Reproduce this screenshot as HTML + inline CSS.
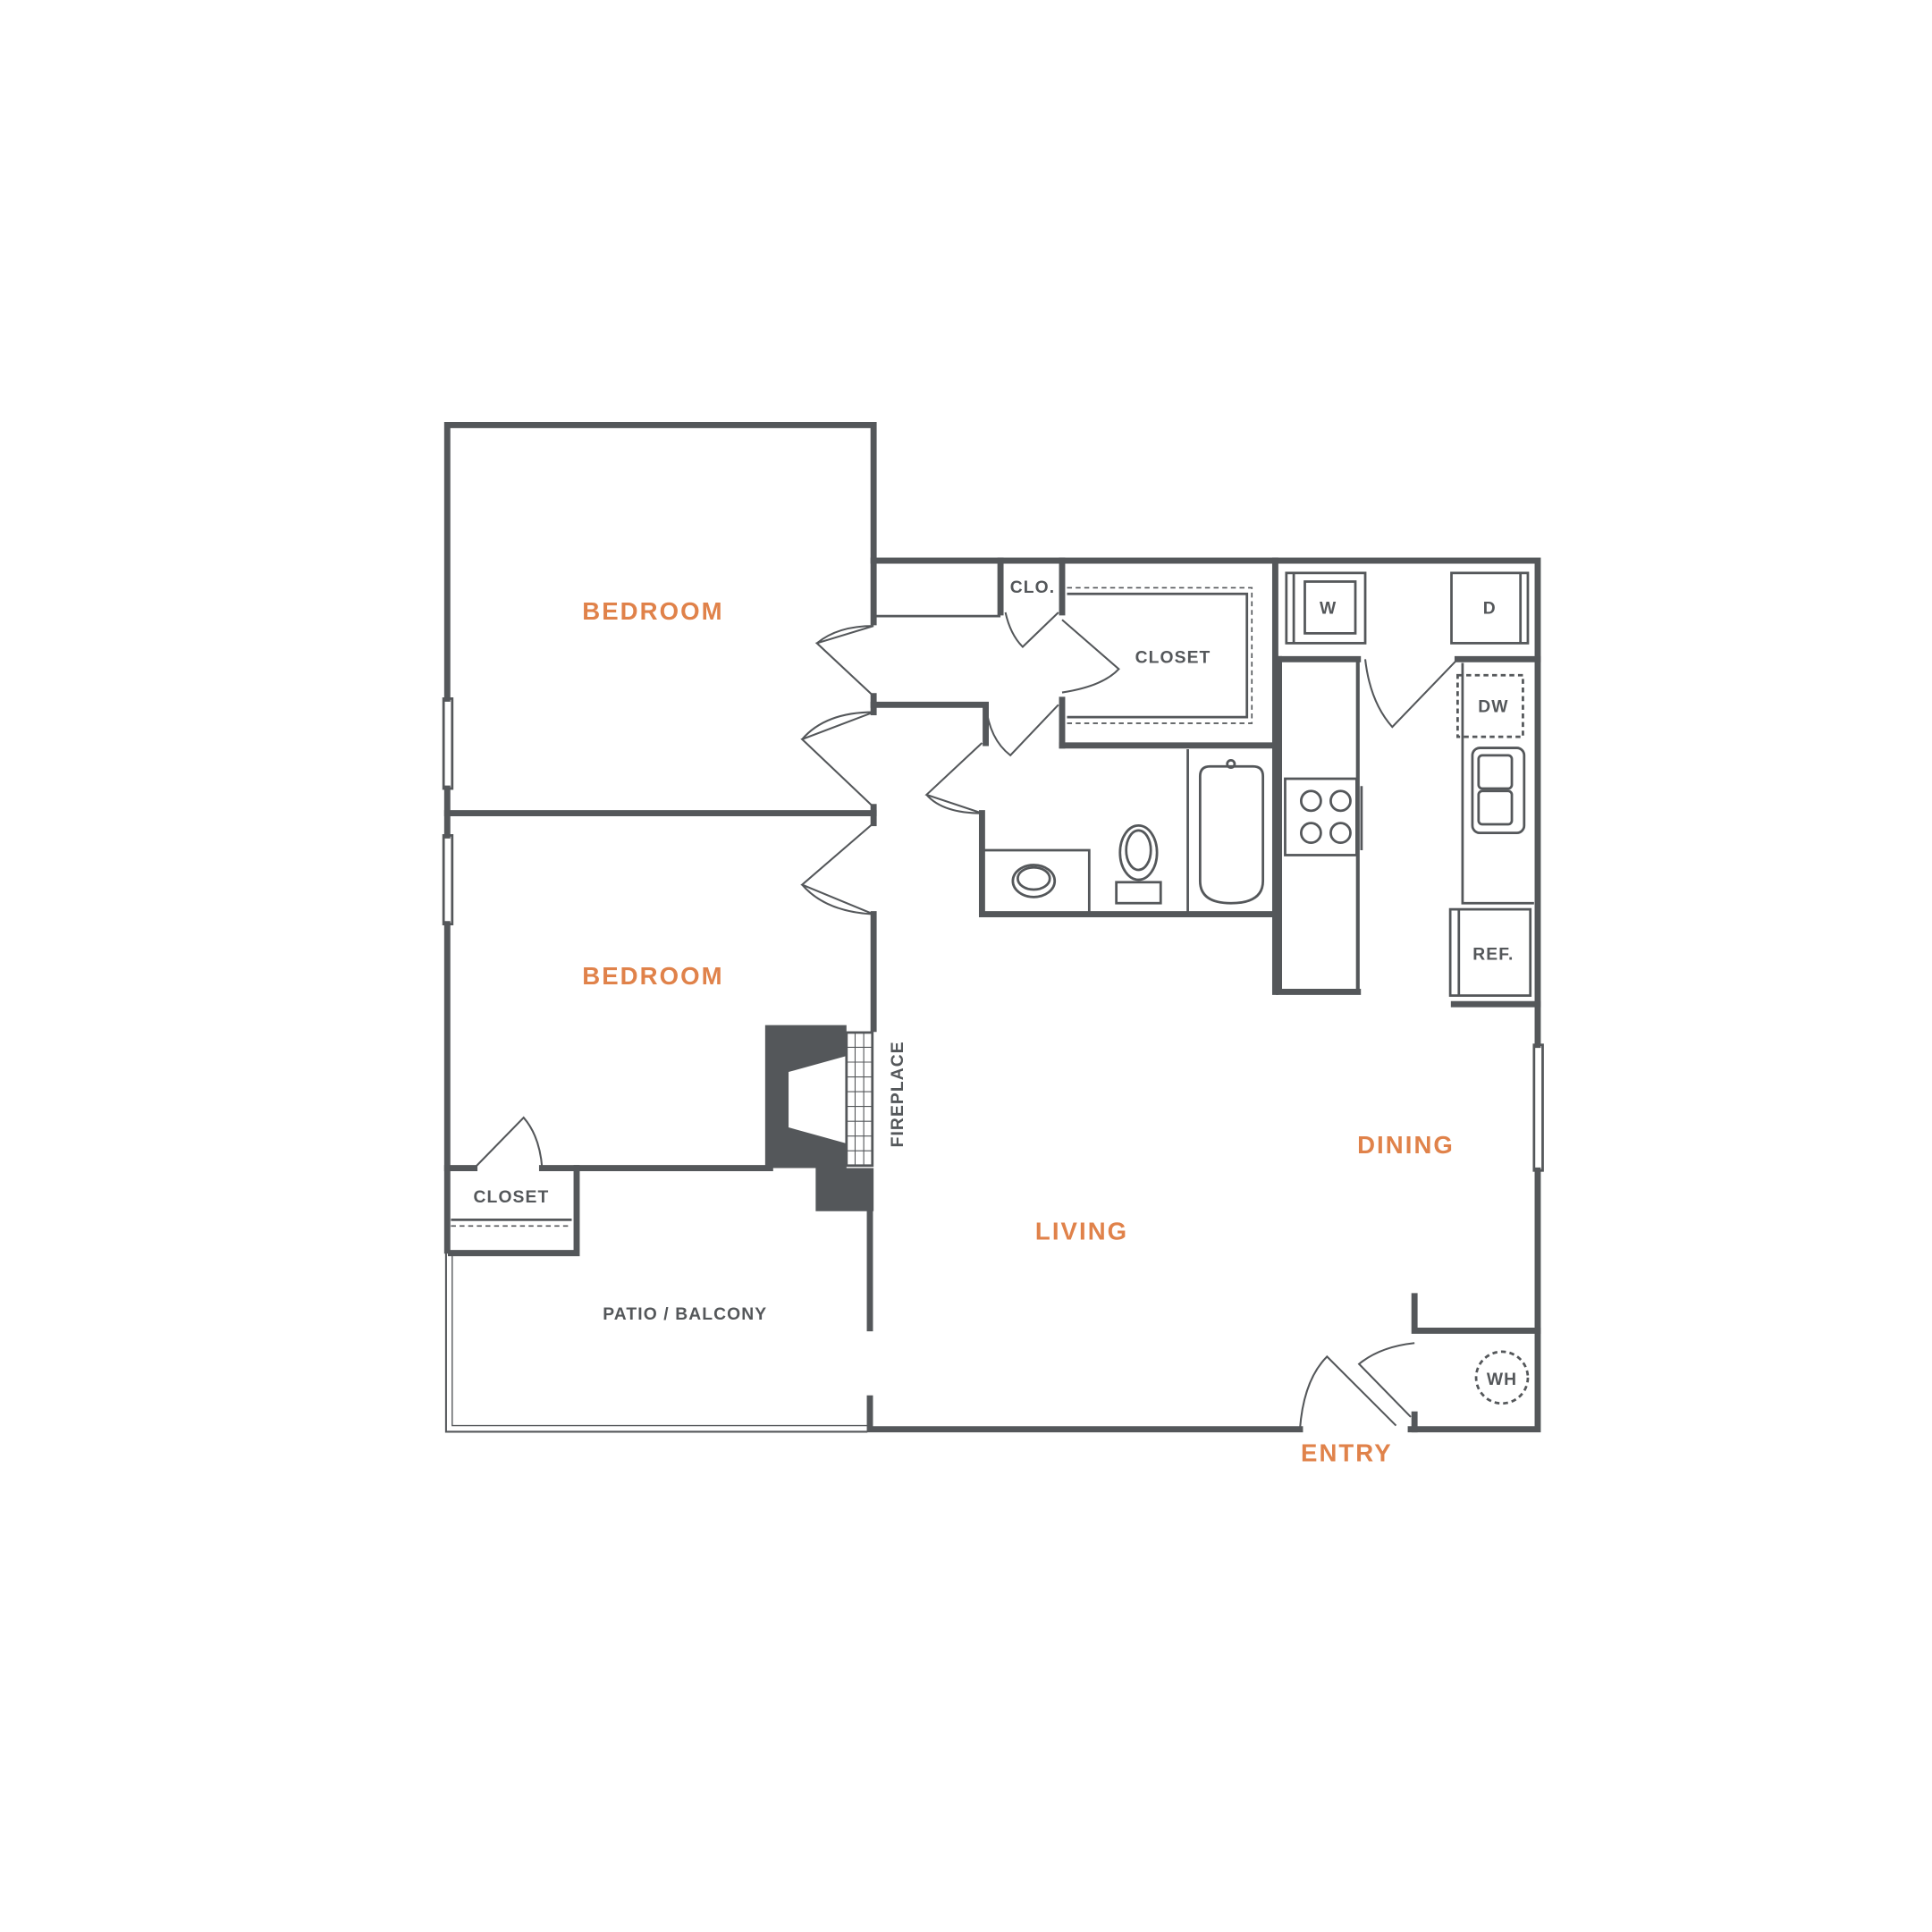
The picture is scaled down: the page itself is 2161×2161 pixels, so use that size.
<!DOCTYPE html>
<html><head><style>html,body{margin:0;padding:0;background:#fff}svg{display:block}</style></head>
<body>
<svg width="2161" height="2161" viewBox="0 0 1568 1568" xmlns="http://www.w3.org/2000/svg">
<g fill="none" stroke="#54575a" stroke-width="5" stroke-linecap="square">
<path d="M363,567 V345 H709 V505"/>
<path d="M363,640 V678"/>
<path d="M363,750 V1015"/>
<path d="M709,455 H1248 V848"/>
<path d="M1248,950 V1160 H1145"/>
<path d="M1055,1160 H706 V1135"/>
<path d="M706,1078 V983"/>
<path d="M363,660 H709"/>
<path d="M709,565 V578"/>
<path d="M709,655 V668"/>
<path d="M709,742 V835"/>
<path d="M363,948 H385"/>
<path d="M440,948 H625"/>
<path d="M366,1017 H468 V948"/>
<path d="M709,572 H800 V603"/>
<path d="M797,660 V742 H1035"/>
<path d="M862,605 H1035"/>
<path d="M862,455 V497"/>
<path d="M862,568 V605"/>
<path d="M812,455 V497"/>
<path d="M1035,455 V605"/>
<path d="M1035,605 V805"/>
<path d="M1038,535 H1102"/>
<path d="M1038,535 V805 H1102"/>
<path d="M1183,535 H1248"/>
<path d="M1180,815 H1248"/>
<path d="M1148,1052 V1080 H1248"/>
<path d="M1148,1148 V1160"/>
</g>
<g fill="none" stroke="#54575a" stroke-width="2">
<path d="M1102,535 V805" stroke-width="3"/>
<rect x="360" y="567" width="7" height="73"/>
<rect x="360" y="678" width="7" height="72"/>
<rect x="1245" y="848" width="7" height="102"/>
<path d="M362,1017 V1162 H704" stroke-width="1.5"/>
<path d="M367,1017 V1157 H704" stroke-width="1"/>
<path d="M707,1045 V1080" />
<path d="M709,500 H812"/>
<path d="M866,482 H1012 V582 H866"/>
<path d="M866,477 H1016 V587 H866" stroke-dasharray="4,3" stroke-width="1.2"/>
<path d="M366,990 H464"/>
<path d="M366,995 H464" stroke-dasharray="4,3" stroke-width="1.2"/>
<path d="M799,690 H884 V740"/>
<path d="M964,608 V740"/>
<ellipse cx="839" cy="715" rx="17" ry="13"/>
<ellipse cx="839" cy="713" rx="13" ry="9"/>
<ellipse cx="924" cy="692" rx="15" ry="22"/>
<ellipse cx="924" cy="690" rx="10" ry="16"/>
<rect x="906" y="716" width="36" height="17"/>
<path d="M974,630 Q974,622 982,622 H1017 Q1025,622 1025,630 V715 Q1025,733 999,733 Q974,733 974,715 Z"/>
<circle cx="999" cy="620" r="3"/>
<rect x="1044" y="465" width="64" height="57"/>
<rect x="1059" y="472" width="41" height="42"/>
<rect x="1178" y="465" width="62" height="57"/>
<path d="M1234,465 V522"/>
<path d="M1050,465 V522"/>
<path d="M1187,538 V733 H1245"/>
<rect x="1183" y="548" width="53" height="50" stroke-dasharray="4,3"/>
<rect x="1195" y="607" width="42" height="69" rx="6"/>
<rect x="1200" y="613" width="27" height="27" rx="3"/>
<rect x="1200" y="642" width="27" height="27" rx="3"/>
<rect x="1043" y="632" width="58" height="62"/>
<circle cx="1064" cy="650" r="8"/><circle cx="1088" cy="650" r="8"/>
<circle cx="1064" cy="676" r="8"/><circle cx="1088" cy="676" r="8"/>
<path d="M1105,638 V690"/>
<rect x="1177" y="738" width="65" height="70"/>
<path d="M1184,738 V808"/>
<circle cx="1219" cy="1118" r="21" stroke-dasharray="4,3"/>
<rect x="687" y="838" width="21" height="108"/>
</g>
<g stroke="#54575a" stroke-width="0.8">
<path d="M687,850H708M687,862H708M687,874H708M687,886H708M687,898H708M687,910H708M687,922H708M687,934H708M694,838V946M701,838V946"/>
</g>
<path d="M621,832 H687 V838 L687,857 L640,870 V915 L687,928 V948 H709 V983 H662 V948 H621 Z" fill="#54575a"/>
<g fill="none" stroke="#54575a" stroke-width="1.5">
<path d="M709,508 L663,522 L709,565 M663,522 Q680,508 709,508"/>
<path d="M709,578 L651,600 L709,655 M651,600 Q670,578 709,578"/>
<path d="M709,668 L651,718 L709,742 M651,718 Q670,740 709,742"/>
<path d="M797,603 L752,645 L797,660 M752,645 Q765,660 797,660"/>
<path d="M800,572 Q803,600 820,613 L859,572"/>
<path d="M816,497 Q820,515 830,525 L859,497"/>
<path d="M862,503 L908,543 Q895,557 862,562"/>
<path d="M1108,535 Q1112,570 1130,590 L1183,535"/>
<path d="M385,948 L425,907 Q438,922 440,948"/>
<path d="M1055,1160 Q1058,1120 1077,1101 L1133,1157"/>
<path d="M1148,1090 Q1120,1093 1103,1107 L1145,1150"/>
</g>
<g font-family="Liberation Sans, sans-serif" font-weight="bold" text-anchor="middle">
<g fill="#e0824a" font-size="20" letter-spacing="1.5">
<text x="530" y="503">BEDROOM</text>
<text x="530" y="799">BEDROOM</text>
<text x="1141" y="936">DINING</text>
<text x="878" y="1006">LIVING</text>
<text x="1093" y="1186">ENTRY</text>
</g>
<g fill="#54575a" font-size="14" letter-spacing="0.8">
<text x="838" y="481">CLO.</text>
<text x="952" y="538">CLOSET</text>
<text x="415" y="976">CLOSET</text>
<text x="556" y="1071">PATIO / BALCONY</text>
<text x="1078" y="498">W</text>
<text x="1209" y="498">D</text>
<text x="1212" y="578">DW</text>
<text x="1212" y="779">REF.</text>
<text x="1219" y="1124">WH</text>
<text transform="translate(733,888) rotate(-90)">FIREPLACE</text>
</g>
</g>
</svg>
</body></html>
